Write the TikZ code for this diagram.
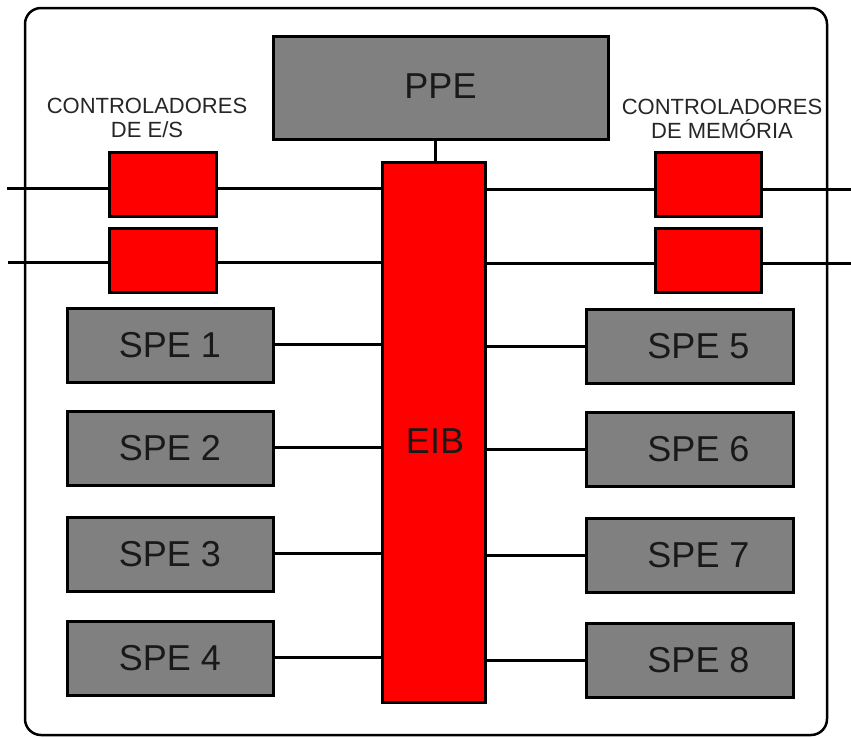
\documentclass[tikz,border=0pt]{standalone}
\usepackage{fontspec}
\setmainfont{Liberation Sans}
\begin{document}
\begin{tikzpicture}[x=1pt,y=-1pt,
  boxline/.style={draw=black,line width=3pt},
  graybox/.style={boxline,fill={rgb,255:red,128;green,128;blue,128},inner sep=0pt,font=\fontsize{36}{40}\selectfont,text=black!90},
  redbox/.style={boxline,fill=red,inner sep=0pt},
  wire/.style={line width=3pt,draw=black},
  caption/.style={font=\fontsize{22}{24}\selectfont,align=center,text=black!85,inner sep=0pt}
]
\useasboundingbox (0,0) rectangle (851,737);
% frame
\draw[line width=2.5pt,rounded corners=16pt] (25,8) rectangle (827,735);

% PPE and EIB
\node[graybox,minimum width=335,minimum height=103] (ppe) at (440.5,87.5) {\raisebox{3pt}{PPE}\hspace{6pt}};
\node[redbox,minimum width=103,minimum height=540] (eib) at (433.5,432) {};
\node[font=\fontsize{36}{40}\selectfont,text=black!90,inner sep=0pt] (eibtext) at (435,441) {EIB};
\draw[wire] (ppe.south -| 435,0) -- (eib.north -| 435,0);

% I/O controllers
\node[redbox,minimum width=107,minimum height=64] (io1) at (162.5,184.5) {};
\node[redbox,minimum width=107,minimum height=64] (io2) at (162.5,260) {};
\node[caption] (iolabel) at (147,118) {CONTROLADORES\\DE E/S};
\coordinate (ioin1) at (7,188);
\coordinate (ioin2) at (8,262);
\draw[wire] (ioin1) -- (ioin1 -| io1.west);
\draw[wire] (ioin1 -| io1.east) -- (ioin1 -| eib.west);
\draw[wire] (ioin2) -- (ioin2 -| io2.west);
\draw[wire] (ioin2 -| io2.east) -- (ioin2 -| eib.west);

% memory controllers
\node[redbox,minimum width=106,minimum height=64] (mc1) at (708,184.5) {};
\node[redbox,minimum width=106,minimum height=64] (mc2) at (708,260) {};
\node[caption] (mclabel) at (722,119) {CONTROLADORES\\DE MEMÓRIA};
\coordinate (mcout1) at (851,189);
\coordinate (mcout2) at (851,263);
\draw[wire] (mcout1 -| eib.east) -- (mcout1 -| mc1.west);
\draw[wire] (mcout1 -| mc1.east) -- (mcout1);
\draw[wire] (mcout2 -| eib.east) -- (mcout2 -| mc2.west);
\draw[wire] (mcout2 -| mc2.east) -- (mcout2);

% SPEs left
\foreach \i/\y in {1/345.5,2/448.5,3/554.5,4/658.5}{
  \node[graybox,minimum width=206,minimum height=74] (spe\i) at (170,\y) {SPE \i\hspace{10pt}};
  \draw[wire] ([yshift=1.5pt]spe\i.east) -- ([yshift=1.5pt]spe\i.east -| eib.west);
}
% SPEs right
\foreach \i/\y in {5/346,6/449.5,7/555.5,8/660}{
  \node[graybox,minimum width=207,minimum height=74] (spe\i) at (689.5,\y) {\hspace{18pt}SPE \i};
  \draw[wire] (spe\i.west -| eib.east) -- (spe\i.west);
}
\end{tikzpicture}
\end{document}
